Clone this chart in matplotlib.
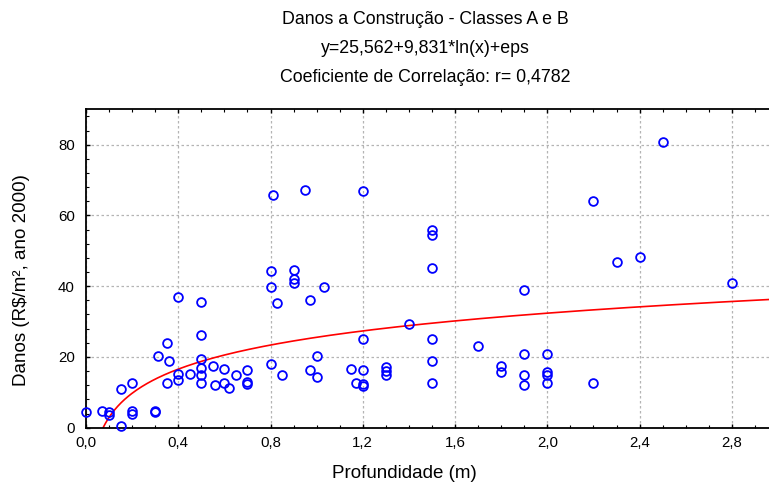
import numpy as np
import matplotlib
matplotlib.use("Agg")
import matplotlib.pyplot as plt
from matplotlib.ticker import MultipleLocator, FuncFormatter

# fitted curve from the title: y = a + b*ln(x)
coef_a = 25.562
coef_b = 9.831

profundidade = [0.00, 0.07, 0.10, 0.10, 0.15, 0.15, 0.20, 0.20, 0.20, 0.30,
                0.30, 0.31, 0.35, 0.35, 0.36, 0.40, 0.40, 0.40, 0.45, 0.50,
                0.50, 0.50, 0.50, 0.50, 0.50, 0.55, 0.56, 0.60, 0.60, 0.62,
                0.65, 0.70, 0.70, 0.70, 0.81, 0.95, 1.20, 0.80, 0.80, 0.83,
                0.90, 0.90, 0.90, 0.97, 1.03, 0.80, 0.85, 0.97, 1.00, 1.00,
                1.15, 1.17, 1.20, 1.20, 1.20, 1.20, 1.30, 1.30, 1.30, 1.40,
                1.50, 1.50, 1.50, 1.50, 1.50, 1.50, 1.70, 1.80, 1.80, 1.90,
                1.90, 1.90, 1.90, 2.00, 2.00, 2.00, 2.00, 2.20, 2.20, 2.30,
                2.40, 2.50, 2.80]
danos = [4.5, 4.8, 4.5, 3.6, 10.8, 0.5, 12.5, 4.8, 3.8, 4.8,
         4.4, 20.2, 23.9, 12.6, 18.9, 37.0, 15.3, 13.5, 15.3, 35.5,
         26.1, 19.4, 16.8, 14.8, 12.5, 17.5, 12.1, 16.6, 12.5, 11.2,
         14.9, 16.2, 12.8, 12.3, 65.8, 67.2, 66.8, 44.2, 39.7, 35.2,
         44.6, 41.9, 41.0, 36.0, 39.7, 18.0, 14.9, 16.2, 20.2, 14.4,
         16.7, 12.5, 16.2, 25.2, 12.4, 11.7, 17.2, 16.0, 14.8, 29.3,
         56.0, 54.5, 45.1, 25.2, 18.8, 12.5, 23.0, 17.5, 15.8, 38.8,
         20.7, 14.8, 12.1, 20.7, 15.8, 14.8, 12.5, 64.0, 12.5, 46.8,
         48.2, 80.8, 41.0]

titulos = ["Danos a Construção - Classes A e B",
           "y=25,562+9,831*ln(x)+eps",
           "Coeficiente de Correlação: r= 0,4782"]

plt.rcParams['font.family'] = ['Liberation Sans', 'DejaVu Sans']

fig = plt.figure(figsize=(7.69, 4.87), dpi=100)
ax = fig.add_axes([86 / 769, 59.3 / 487, 692 / 769, 318.4 / 487])

xc = np.linspace(0.01, 3.0, 400)
yc = coef_a + coef_b * np.log(xc)
ax.plot(xc, yc, color='red', lw=1.2, zorder=2)

ax.plot(profundidade, danos, 'o', mfc='none', mec='#0000ff', ms=6.3, mew=1.3,
        clip_on=False, zorder=3)

ax.set_xlim(0, 3.0)
ax.set_ylim(0, 90)
ax.xaxis.set_major_locator(MultipleLocator(0.4))
ax.xaxis.set_minor_locator(MultipleLocator(0.1))
ax.yaxis.set_major_locator(MultipleLocator(20))
ax.yaxis.set_minor_locator(MultipleLocator(4))
ax.xaxis.set_major_formatter(FuncFormatter(lambda v, p: f"{v:.1f}".replace('.', ',')))
ax.yaxis.set_major_formatter(FuncFormatter(lambda v, p: f"{v:.0f}"))

ax.tick_params(which='both', direction='in', top=True, right=False,
               labelsize=10.8, colors='black')
ax.tick_params(which='major', length=3, width=1)
ax.tick_params(which='minor', length=2.5, width=0.8)
ax.tick_params(axis='x', pad=6)
ax.tick_params(axis='y', pad=8)

ax.grid(True, which='major', color='#b4b4b4', linestyle=(0, (2, 2)), lw=0.9)
ax.set_axisbelow(True)
ax.spines['right'].set_visible(False)
for s in ['left', 'bottom', 'top']:
    ax.spines[s].set_linewidth(1.3)

fig.text(404 / 769, 1 - 474 / 487, "Profundidade (m)", ha='center', va='center',
         fontsize=13.5)
fig.text(22 / 769, 1 - 280 / 487, "Danos (R$/m², ano 2000)", ha='center', va='center',
         rotation=90, fontsize=13.5)

for i, t in enumerate(titulos):
    fig.text(425 / 769, 1 - (20 + 28.5 * i) / 487, t, ha='center', va='center',
             fontsize=12.8)

fig.savefig('out.png', dpi=100)
